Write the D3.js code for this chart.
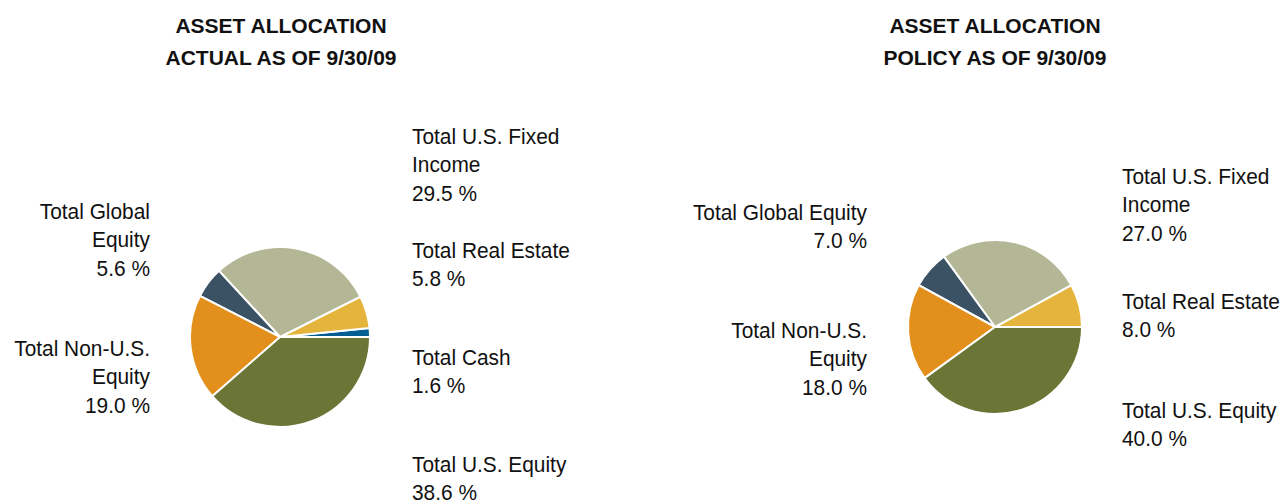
<!DOCTYPE html>
<html>
<head>
<meta charset="utf-8">
<script src="https://cdn.jsdelivr.net/npm/d3@7"></script>
<style>
  body { margin: 0; background: #fff; }
  text { font-family: "Liberation Sans", Arimo, Arial, sans-serif; fill: #111; }
</style>
</head>
<body>
<div id="chart"></div>
<script>
// categories in drawing order (counter-clockwise from 3 o'clock)
const categories = ["Total Cash", "Total Real Estate", "Total U.S. Fixed Income",
  "Total Global Equity", "Total Non-U.S. Equity", "Total U.S. Equity"];
const actualValues = [1.6, 5.8, 29.5, 5.6, 19.0, 38.6];
const policyValues = [0, 8.0, 27.0, 7.0, 18.0, 40.0];
const colours = ["#045e94", "#e4b43c", "#b3b795", "#3b5265", "#e28f1b", "#6b7535"];

// label line breaks for each pie
const actualLabels = [
  ["Total Cash"], ["Total Real Estate"], ["Total U.S. Fixed", "Income"],
  ["Total Global", "Equity"], ["Total Non-U.S.", "Equity"], ["Total U.S. Equity"]
];
const policyLabels = [
  null, ["Total Real Estate"], ["Total U.S. Fixed", "Income"],
  ["Total Global Equity"], ["Total Non-U.S.", "Equity"], ["Total U.S. Equity"]
];

const width = 1283, height = 503;
const lineH = 28.5;

const svg = d3.select("#chart").append("svg")
  .attr("width", width)
  .attr("height", height);

function drawPie(cfg) {
  const g = svg.append("g").attr("class", "pieChart");

  // title
  const title = g.append("text")
    .attr("text-anchor", "middle")
    .attr("font-weight", "bold")
    .attr("font-size", "21px");
  cfg.title.forEach((t, i) => {
    title.append("tspan").attr("x", cfg.titleX).attr("y", 33 + i * 32).text(t);
  });

  const data = categories.map((c, i) => ({ name: c, value: cfg.values[i], colour: colours[i] }))
    .filter(d => d.value > 0);

  const pie = d3.pie()
    .value(d => d.value)
    .sort(null)
    .startAngle(Math.PI / 2)
    .endAngle(Math.PI / 2 - 2 * Math.PI);

  const arc = d3.arc().innerRadius(0).outerRadius(cfg.r);

  g.append("g")
    .attr("transform", `translate(${cfg.cx},${cfg.cy})`)
    .selectAll("path")
    .data(pie(data))
    .enter()
    .append("path")
    .attr("d", arc)
    .attr("fill", d => d.data.colour)
    .attr("stroke", "#fff")
    .attr("stroke-width", 2)
    .attr("stroke-linejoin", "round");

  // labels (slightly condensed, like the original)
  cfg.labelPos.forEach((p, i) => {
    if (!p) return;
    const lines = cfg.labels[i].concat([cfg.values[i].toFixed(1) + " %"]);
    const t = g.append("text")
      .attr("transform", `translate(${p.x},0) scale(0.95,1)`)
      .attr("text-anchor", p.anchor)
      .attr("font-size", "22px");
    lines.forEach((l, j) => {
      t.append("tspan").attr("x", 0).attr("y", p.y + j * lineH).text(l);
    });
  });
}

drawPie({
  title: ["ASSET ALLOCATION", "ACTUAL AS OF 9/30/09"],
  titleX: 281,
  cx: 280, cy: 337, r: 90,
  values: actualValues,
  labels: actualLabels,
  labelPos: [
    { x: 412, y: 365, anchor: "start" },
    { x: 412, y: 258, anchor: "start" },
    { x: 412, y: 144, anchor: "start" },
    { x: 150, y: 219, anchor: "end" },
    { x: 150, y: 356, anchor: "end" },
    { x: 412, y: 472, anchor: "start" }
  ]
});

drawPie({
  title: ["ASSET ALLOCATION", "POLICY AS OF 9/30/09"],
  titleX: 995,
  cx: 995, cy: 327, r: 87,
  values: policyValues,
  labels: policyLabels,
  labelPos: [
    null,
    { x: 1122, y: 309, anchor: "start" },
    { x: 1122, y: 184, anchor: "start" },
    { x: 867, y: 220, anchor: "end" },
    { x: 867, y: 338, anchor: "end" },
    { x: 1122, y: 418, anchor: "start" }
  ]
});
</script>
</body>
</html>
